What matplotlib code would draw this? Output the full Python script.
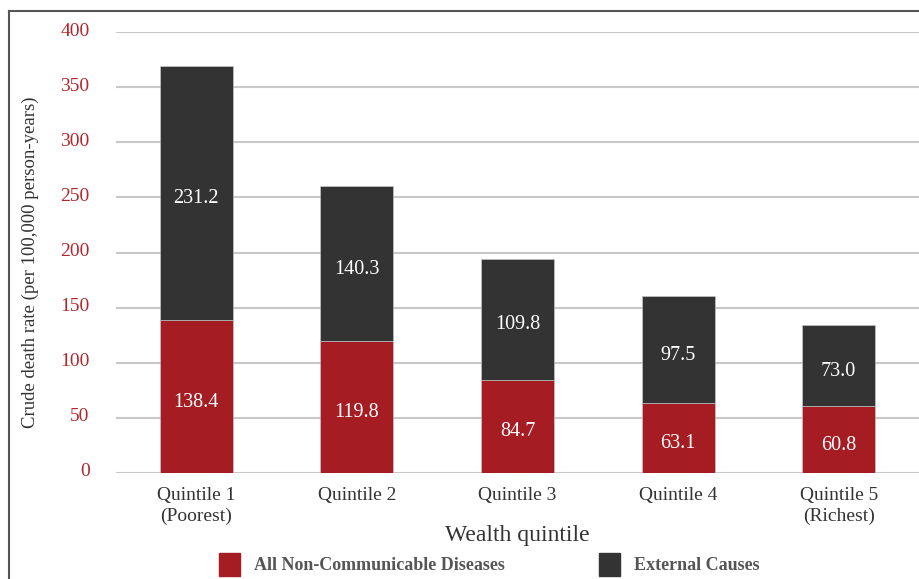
import matplotlib.pyplot as plt
from matplotlib.patches import Rectangle
from matplotlib.lines import Line2D
from matplotlib.transforms import ScaledTranslation

quintiles = ["Quintile 1\n(Poorest)", "Quintile 2", "Quintile 3", "Quintile 4", "Quintile 5\n(Richest)"]
ncd = [138.4, 119.8, 84.7, 63.1, 60.8]
external = [231.2, 140.3, 109.8, 97.5, 73.0]

red = "#a51d23"
dark = "#333333"
font = "Liberation Serif"

fig = plt.figure(figsize=(9.19, 5.79), dpi=100)
ax = fig.add_axes([116 / 919, 1 - 473 / 579, 803 / 919, 441 / 579])

x = range(len(quintiles))
ax.bar(x, ncd, width=0.455, color=red, edgecolor="#d0d0d0", linewidth=0.4, zorder=3)
ax.bar(x, external, width=0.455, bottom=ncd, color=dark, edgecolor="#d0d0d0", linewidth=0.4, zorder=3)

# segment values, sitting a little below the middle of each segment
for i in x:
    ax.annotate(f"{ncd[i]:.1f}", (i, ncd[i] / 2), xytext=(0, -4), textcoords="offset points",
                ha="center", va="center", color="white", fontsize=14.5, family=font, zorder=4)
    ax.annotate(f"{external[i]:.1f}", (i, ncd[i] + external[i] / 2), xytext=(0, -4),
                textcoords="offset points", ha="center", va="center", color="white",
                fontsize=14.5, family=font, zorder=4)

ax.set_xlim(-0.5, 4.5)
ax.set_ylim(0, 400)
ax.set_yticks(range(0, 401, 50))
ax.yaxis.grid(True, color="#c8c8c8", linewidth=1.5, zorder=0)
for s in ax.spines.values():
    s.set_visible(False)
ax.tick_params(axis="both", length=0)
ax.tick_params(axis="y", pad=19, labelcolor="#b0272d", labelsize=14)
ax.tick_params(axis="x", pad=10, labelcolor="#333333", labelsize=14)
ax.set_xticks(list(x))
ax.set_xticklabels(quintiles, linespacing=1.25)
for lbl in ax.get_xticklabels() + ax.get_yticklabels():
    lbl.set_family(font)
# y labels ride slightly above their grid lines
lift = ScaledTranslation(0, 3 / 100, fig.dpi_scale_trans)
for lbl in ax.get_yticklabels():
    lbl.set_transform(lbl.get_transform() + lift)

ax.set_xlabel("Wealth quintile", family=font, fontsize=17, color="#333333", labelpad=0)
fig.text(30 / 919, 1 - 262 / 579, "Crude death rate (per 100,000 person-years)", rotation=90,
         ha="center", va="center", family=font, fontsize=13.5, color="#333333")

# outer frame, cut off at the right and bottom edges
fig.add_artist(Line2D([9 / 919, 9 / 919], [0, 1 - 11 / 579], color="#555555", linewidth=1.5))
fig.add_artist(Line2D([9 / 919, 1], [1 - 11 / 579, 1 - 11 / 579], color="#555555", linewidth=1.5))

# legend
for px, label, col in [(219, "All Non-Communicable Diseases", red), (599, "External Causes", dark)]:
    fig.add_artist(Rectangle((px / 919, 1 - 576 / 579), 21 / 919, 23 / 579,
                             transform=fig.transFigure, color=col))
    fig.text((px + 35) / 919, 1 - 565 / 579, label, ha="left", va="center",
             family=font, fontsize=13, fontweight="bold", color="#555555")

fig.savefig("out.png", dpi=100)
